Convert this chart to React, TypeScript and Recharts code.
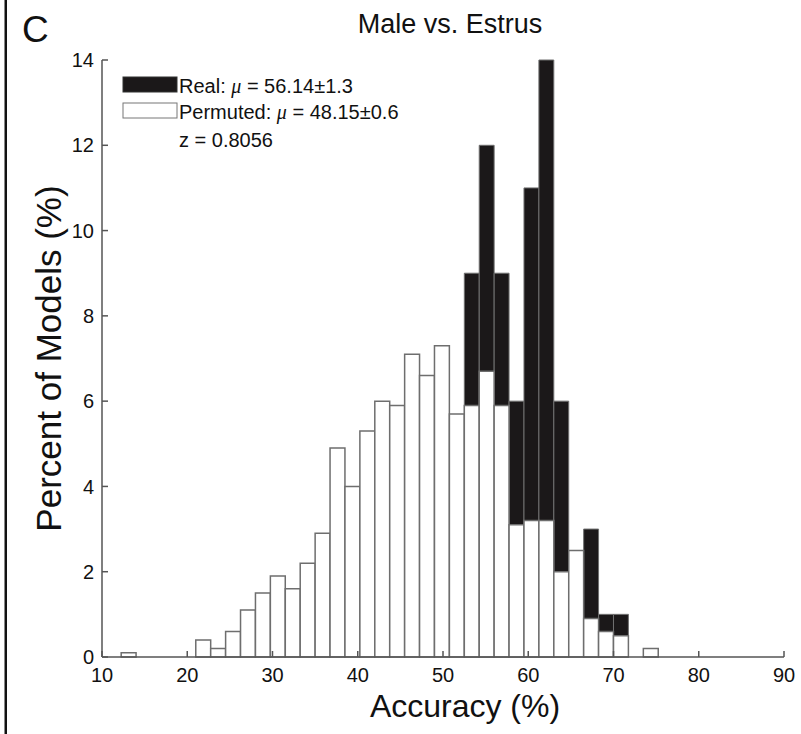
import { BarChart, Bar, XAxis, YAxis, Label } from "recharts";

// histogram bins (width 1.75), centre of each bin
const binCenters = [
  13.125, 14.875, 16.625, 18.375, 20.125, 21.875, 23.625, 25.375, 27.125,
  28.875, 30.625, 32.375, 34.125, 35.875, 37.625, 39.375, 41.125, 42.875,
  44.625, 46.375, 48.125, 49.875, 51.625, 53.375, 55.125, 56.875, 58.625,
  60.375, 62.125, 63.875, 65.625, 67.375, 69.125, 70.875, 72.625, 74.375,
];

const permuted = [
  0.1, 0, 0, 0, 0, 0.4, 0.2, 0.6, 1.1, 1.5, 1.9, 1.6, 2.2, 2.9, 4.9, 4.0, 5.3,
  6.0, 5.9, 7.1, 6.6, 7.3, 5.7, 5.9, 6.7, 5.9, 3.1, 3.2, 3.2, 2.0, 2.5, 0.9,
  0.6, 0.5, 0, 0.2,
];

const real = [
  0, 0, 0, 0, 0, 0, 0, 0, 0, 0, 0, 0, 0, 0, 0, 0, 0, 0, 0, 0, 0, 0, 0, 9, 12,
  9, 6, 11, 14, 6, 0, 3, 1, 1, 0, 0,
];

const xTicks = [10, 20, 30, 40, 50, 60, 70, 80, 90];
const yTicks = [0, 2, 4, 6, 8, 10, 12, 14];

const data = binCenters.map((c, i) => ({
  acc: c,
  real: real[i],
  permuted: permuted[i],
}));

const font = '"Liberation Sans", Arial, Helvetica, sans-serif';
const axisGrey = "#555";

function YTitle(props: any) {
  const vb = props.viewBox || { y: 60, height: 597 };
  const cy = vb.y + vb.height / 2;
  return (
    <text
      transform={`translate(61, ${cy}) rotate(-90)`}
      textAnchor="middle"
      fontSize={35}
      fontFamily={font}
      fill="#111"
    >
      Percent of Models (%)
    </text>
  );
}

export default function App() {
  return (
    <div
      style={{
        position: "absolute",
        left: 0,
        top: 0,
        width: 801,
        height: 734,
        background: "#fff",
      }}
    >
      <BarChart
        width={801}
        height={734}
        data={data}
        margin={{ top: 60, right: 17, bottom: 0, left: 0 }}
      >
        <XAxis
          xAxisId="real"
          dataKey="acc"
          type="number"
          domain={[10, 90]}
          hide
        />
        <XAxis
          xAxisId="acc"
          dataKey="acc"
          type="number"
          domain={[10, 90]}
          ticks={xTicks}
          height={77}
          tickSize={-6}
          tickMargin={17}
          axisLine={{ stroke: axisGrey, strokeWidth: 1.5 }}
          tickLine={{ stroke: axisGrey, strokeWidth: 1.5 }}
          tick={{ fill: "#111", fontSize: 20, fontFamily: font }}
        >
          <Label
            value="Accuracy (%)"
            position="insideBottom"
            offset={17}
            dx={22}
            style={{ fontSize: 32, fill: "#111", fontFamily: font }}
          />
        </XAxis>
        <YAxis
          type="number"
          domain={[0, 14]}
          ticks={yTicks}
          width={102}
          tickSize={-6}
          tickMargin={14}
          axisLine={{ stroke: axisGrey, strokeWidth: 1.5 }}
          tickLine={{ stroke: axisGrey, strokeWidth: 1.5 }}
          tick={{ fill: "#111", fontSize: 20, fontFamily: font }}
        >
          <Label content={<YTitle />} />
        </YAxis>
        <Bar
          xAxisId="real"
          dataKey="real"
          barSize={14.9}
          fill="#1b1819"
          stroke="#6f6f6f"
          strokeWidth={1}
          isAnimationActive={false}
        />
        <Bar
          xAxisId="acc"
          dataKey="permuted"
          barSize={14.9}
          fill="#ffffff"
          stroke="#6e6e6e"
          strokeWidth={1.5}
          isAnimationActive={false}
        />
      </BarChart>

      <svg
        width={801}
        height={734}
        style={{ position: "absolute", left: 0, top: 0, pointerEvents: "none" }}
        fontFamily={font}
        fill="#111"
      >
        <rect x={4.5} y={0} width={2.5} height={734} fill="#111" />
        <text x={22} y={42} fontSize={37}>
          C
        </text>
        <text x={450} y={33} fontSize={27} textAnchor="middle">
          Male vs. Estrus
        </text>
        <rect x={123} y={77} width={54} height={15} fill="#1b1819" stroke="#333" />
        <rect x={123} y={103} width={54} height={15} fill="#fff" stroke="#777" />
        <text x={179} y={93} fontSize={20}>
          Real:{" "}
          <tspan fontStyle="italic" fontFamily='"Liberation Serif", serif'>
            μ
          </tspan>{" "}
          = 56.14±1.3
        </text>
        <text x={179} y={119} fontSize={20}>
          Permuted:{" "}
          <tspan fontStyle="italic" fontFamily='"Liberation Serif", serif'>
            μ
          </tspan>{" "}
          = 48.15±0.6
        </text>
        <text x={179} y={147} fontSize={20}>
          z = 0.8056
        </text>
      </svg>
    </div>
  );
}
